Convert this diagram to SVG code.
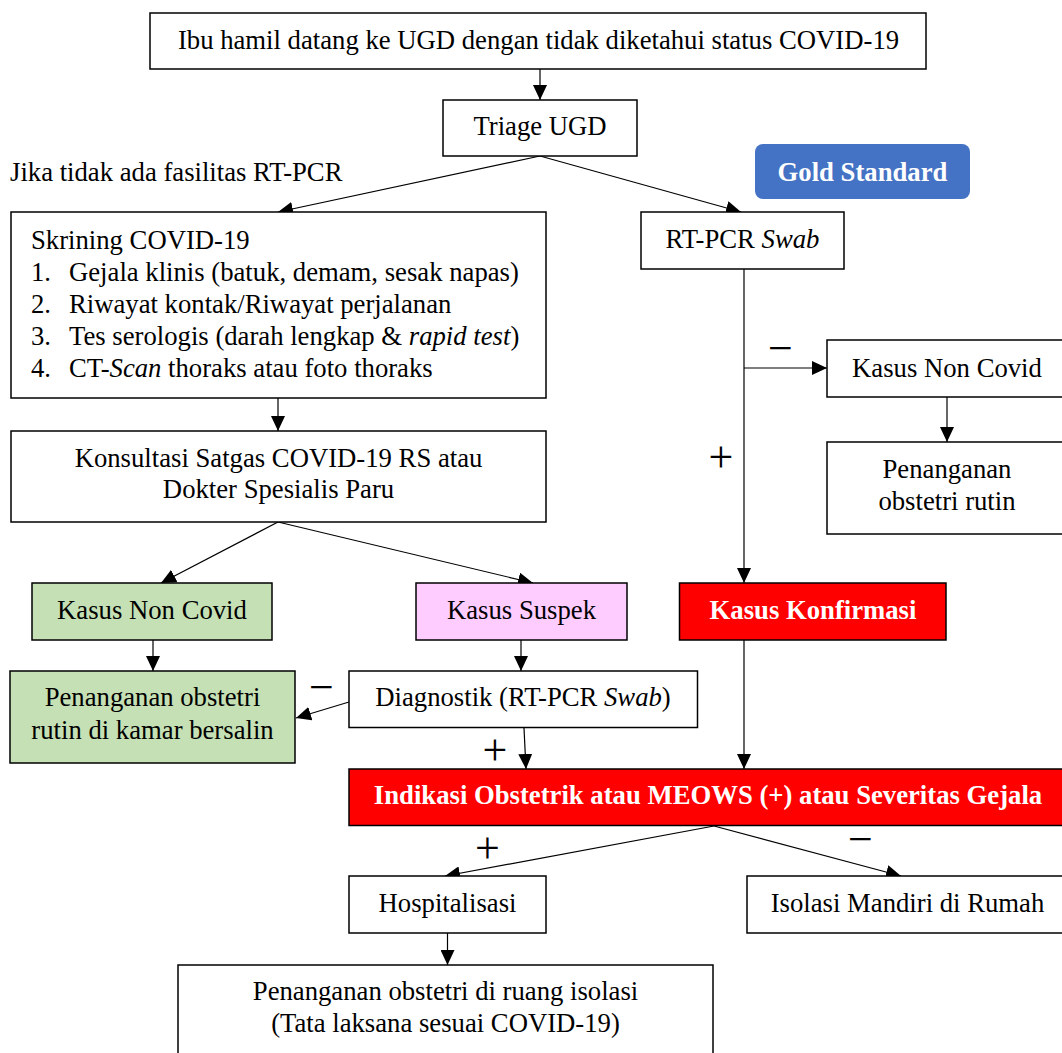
<svg xmlns="http://www.w3.org/2000/svg" width="1062" height="1053" viewBox="0 0 1062 1053">
<style>
text{font-family:"Liberation Serif","Times New Roman",serif;font-size:26.7px;fill:#000}
.c{text-anchor:middle}
.b{font-weight:bold;fill:#fff}
.i{font-style:italic}
.box{fill:#fff;stroke:#000;stroke-width:1.5}
.green{fill:#C5E0B4}
.pink{fill:#FFCCFF}
.red{fill:#FF0000}
.sign{font-family:"Liberation Serif","Times New Roman",serif;font-size:44px;text-anchor:middle}
#connectors line{stroke:#000;stroke-width:1.2;fill:none;marker-end:url(#ah)}
</style>
<defs>
<marker id="ah" markerUnits="userSpaceOnUse" markerWidth="15" markerHeight="14" refX="15" refY="7" orient="auto">
<path d="M0,0 L15,7 L0,14 z" fill="#000"/>
</marker>
</defs>
<rect width="1062" height="1053" fill="#fff"/>

<g id="connectors">
<line x1="540" y1="69" x2="540" y2="100"/>
<line x1="540" y1="156" x2="278" y2="212"/>
<line x1="540" y1="156" x2="741" y2="212"/>
<line x1="744" y1="269" x2="744" y2="583"/>
<line x1="744" y1="368" x2="827" y2="368"/>
<line x1="947" y1="397" x2="947" y2="442"/>
<line x1="278" y1="398" x2="278" y2="431"/>
<line x1="278" y1="522" x2="161" y2="583"/>
<line x1="278" y1="522" x2="533" y2="583"/>
<line x1="153" y1="640" x2="153" y2="671"/>
<line x1="521" y1="640" x2="521" y2="671"/>
<line x1="349" y1="702" x2="296" y2="718"/>
<line x1="524" y1="728" x2="526" y2="769"/>
<line x1="744" y1="640" x2="744" y2="769"/>
<line x1="714" y1="826" x2="445" y2="876"/>
<line x1="714" y1="826" x2="901" y2="876"/>
<line x1="447.5" y1="933" x2="447.5" y2="965"/>
</g>

<g id="labels">
<text class="sign" x="780.5" y="363">−</text>
<text class="sign" x="721" y="472">+</text>
<text class="sign" x="321.5" y="702">−</text>
<text class="sign" x="495" y="765">+</text>
<text class="sign" x="487.5" y="863">+</text>
<text class="sign" x="860.5" y="854">−</text>
<text x="10" y="181">Jika tidak ada fasilitas RT-PCR</text>
</g>

<g id="n-start">
<rect class="box" x="150" y="13" width="776" height="56"/>
<text class="c" x="538.5" y="49">Ibu hamil datang ke UGD dengan tidak diketahui status COVID-19</text>
</g>
<g id="n-triage">
<rect class="box" x="443" y="100" width="194" height="56"/>
<text class="c" x="540" y="135">Triage UGD</text>
</g>
<g id="n-gold">
<rect x="755" y="144" width="215" height="55" rx="8" fill="#4472C4"/>
<text class="c b" x="862.5" y="181">Gold Standard</text>
</g>
<g id="n-rtpcr">
<rect class="box" x="641" y="212" width="203" height="57"/>
<text class="c" x="742.5" y="248">RT-PCR <tspan class="i">Swab</tspan></text>
</g>
<g id="n-nonCovidR">
<rect class="box" x="827" y="340" width="240" height="57"/>
<text class="c" x="947" y="377">Kasus Non Covid</text>
</g>
<g id="n-rutinR">
<rect class="box" x="827" y="442" width="240" height="92"/>
<text class="c" x="947" y="478">Penanganan</text>
<text class="c" x="947" y="510">obstetri rutin</text>
</g>
<g id="n-skrining">
<rect class="box" x="11" y="212" width="535" height="186"/>
<text x="31" y="249">Skrining COVID-19</text>
<text x="31" y="281">1.</text><text x="69" y="281">Gejala klinis (batuk, demam, sesak napas)</text>
<text x="31" y="313">2.</text><text x="69" y="313">Riwayat kontak/Riwayat perjalanan</text>
<text x="31" y="345">3.</text><text x="69" y="345">Tes serologis (darah lengkap &amp; <tspan class="i">rapid test</tspan>)</text>
<text x="31" y="377">4.</text><text x="69" y="377">CT-<tspan class="i">Scan</tspan> thoraks atau foto thoraks</text>
</g>
<g id="n-konsultasi">
<rect class="box" x="11" y="431" width="535" height="91"/>
<text class="c" x="278.5" y="467">Konsultasi Satgas COVID-19 RS atau</text>
<text class="c" x="278.5" y="498">Dokter Spesialis Paru</text>
</g>
<g id="n-nonCovidL">
<rect class="box green" x="32" y="583" width="240" height="57"/>
<text class="c" x="152" y="619">Kasus Non Covid</text>
</g>
<g id="n-suspek">
<rect class="box pink" x="416" y="583" width="211" height="57"/>
<text class="c" x="521.5" y="619">Kasus Suspek</text>
</g>
<g id="n-konfirmasi">
<rect class="box red" x="679.5" y="583" width="266.5" height="57"/>
<text class="c b" x="813" y="619">Kasus Konfirmasi</text>
</g>
<g id="n-rutinL">
<rect class="box green" x="10" y="671" width="285" height="92"/>
<text class="c" x="152.5" y="706">Penanganan obstetri</text>
<text class="c" x="152.5" y="739">rutin di kamar bersalin</text>
</g>
<g id="n-diagnostik">
<rect class="box" x="349" y="671" width="348.5" height="56.5"/>
<text class="c" x="523" y="706">Diagnostik (RT-PCR <tspan class="i">Swab</tspan>)</text>
</g>
<g id="n-indikasi">
<rect class="box red" x="349" y="769" width="718" height="56.5"/>
<text class="c b" x="708" y="804">Indikasi Obstetrik atau MEOWS (+) atau Severitas Gejala</text>
</g>
<g id="n-hospitalisasi">
<rect class="box" x="349" y="876" width="197" height="57"/>
<text class="c" x="447.5" y="912">Hospitalisasi</text>
</g>
<g id="n-isolasi">
<rect class="box" x="747" y="876" width="321" height="57"/>
<text class="c" x="907.5" y="912">Isolasi Mandiri di Rumah</text>
</g>
<g id="n-ruangIsolasi">
<rect class="box" x="178" y="965" width="535" height="100"/>
<text class="c" x="445.5" y="1000">Penanganan obstetri di ruang isolasi</text>
<text class="c" x="445.5" y="1032">(Tata laksana sesuai COVID-19)</text>
</g>
</svg>
